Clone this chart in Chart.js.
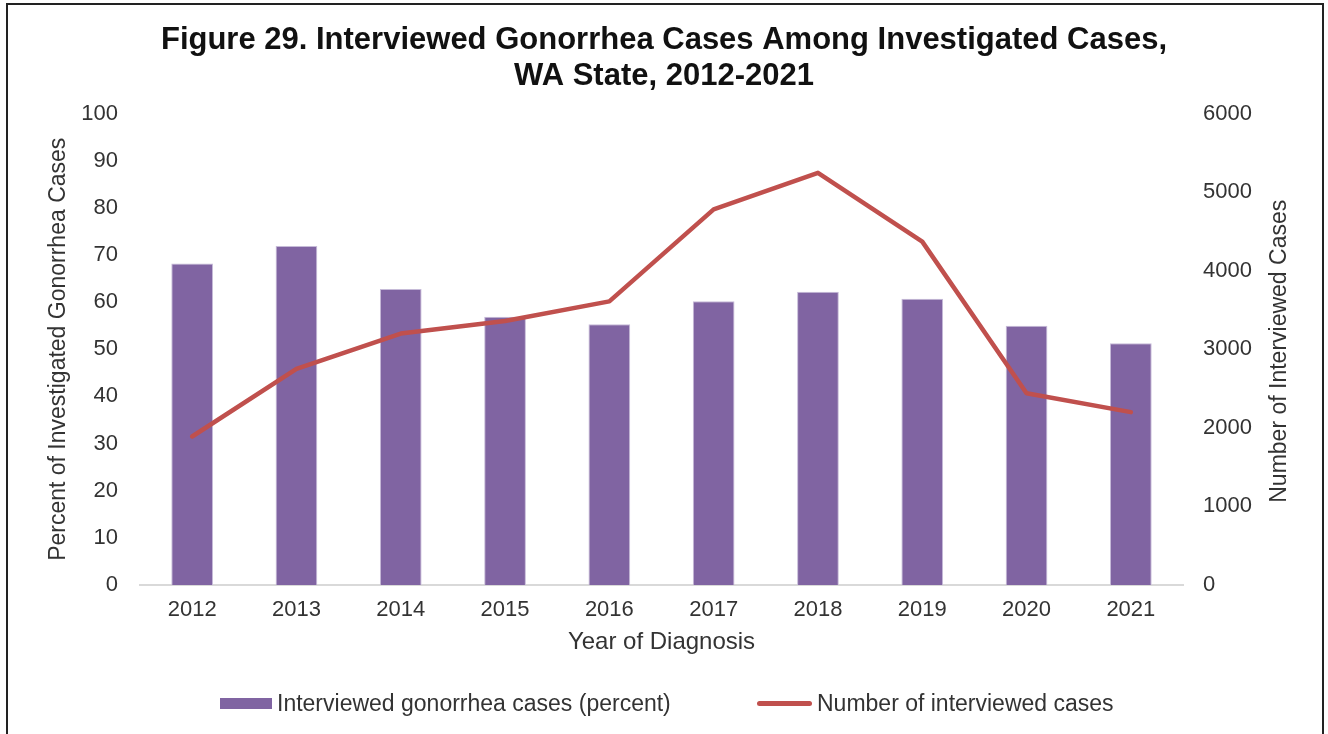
<!DOCTYPE html>
<html>
<head>
<meta charset="utf-8">
<title>Figure 29</title>
<script src="https://cdn.jsdelivr.net/npm/chart.js@4.4.1/dist/chart.umd.min.js"></script>
<style>
  html, body { margin: 0; padding: 0; background: #fff; overflow: hidden; }
  #wrap { position: relative; width: 1328px; height: 734px; font-family: "Liberation Sans", Arial, sans-serif; }
  #chart { position: absolute; left: 0; top: 0; }
  #frame { position: absolute; left: 6px; top: 3px; width: 1318px; height: 800px; border: 2px solid #222; box-sizing: border-box; pointer-events: none; }
  .legend-item { position: absolute; top: 688px; height: 30px; display: flex; align-items: center; font-size: 23px; color: #333; white-space: nowrap; }
  .legend-swatch { display: inline-block; margin-right: 5px; }
</style>
</head>
<body>
<div id="wrap">
  <canvas id="chart" width="1328" height="734"></canvas>
  <div id="legend"></div>
  <div id="frame"></div>
</div>
<script>
// data
const years = ["2012", "2013", "2014", "2015", "2016", "2017", "2018", "2019", "2020", "2021"];
const percentInterviewed = [68.2, 71.9, 62.8, 56.9, 55.3, 60.2, 62.2, 60.7, 55.0, 51.3];
const interviewedCases = [1890, 2750, 3200, 3360, 3610, 4780, 5245, 4370, 2440, 2200];

const titleLines = ["Figure 29. Interviewed Gonorrhea Cases Among Investigated Cases,", "WA State, 2012-2021"];
const barLabel = "Interviewed gonorrhea cases (percent)";
const lineLabel = "Number of interviewed cases";
const rightAxisTitle = "Number of Interviewed Cases";

const BAR_COLOR = "#8064A2";
const LINE_COLOR = "#C0504D";
const TEXT_COLOR = "#333333";
const FONT = '"Liberation Sans", Arial, sans-serif';

Chart.defaults.font.family = FONT;
Chart.defaults.color = TEXT_COLOR;

// right axis title reads bottom-to-top in the original, chart.js rotates it the other way
const rightTitlePlugin = {
  id: "rightTitle",
  afterDraw(chart) {
    const s = chart.scales.y1;
    const ctx = chart.ctx;
    ctx.save();
    ctx.translate(1280, (s.top + s.bottom) / 2 + 2);
    ctx.rotate(-Math.PI / 2);
    ctx.font = "23px " + FONT;
    ctx.fillStyle = TEXT_COLOR;
    ctx.textAlign = "center";
    ctx.textBaseline = "middle";
    ctx.fillText(rightAxisTitle, 0, 0);
    ctx.restore();
  }
};

const chart = new Chart(document.getElementById("chart"), {
  data: {
    labels: years,
    datasets: [
      {
        type: "bar",
        label: barLabel,
        data: percentInterviewed,
        yAxisID: "y",
        backgroundColor: BAR_COLOR,
        borderColor: "#c6bbd8",
        borderWidth: 1,
        barPercentage: 0.4,
        categoryPercentage: 1.0,
        order: 2
      },
      {
        type: "line",
        label: lineLabel,
        data: interviewedCases,
        yAxisID: "y1",
        borderColor: LINE_COLOR,
        backgroundColor: LINE_COLOR,
        borderWidth: 4.5,
        borderCapStyle: "round",
        borderJoinStyle: "round",
        pointRadius: 0,
        tension: 0,
        order: 1
      }
    ]
  },
  options: {
    responsive: false,
    animation: false,
    layout: { padding: { top: 0, left: 0, right: 0, bottom: 74 } },
    plugins: {
      legend: { display: false },
      tooltip: { enabled: false },
      title: {
        display: true,
        text: titleLines,
        color: "#111111",
        font: { size: 31, weight: "bold", lineHeight: 1.17 },
        padding: { top: 22, bottom: 19 }
      }
    },
    scales: {
      x: {
        offset: true,
        grid: { display: false, drawTicks: false },
        border: { display: true, color: "#d9d9d9", width: 2 },
        ticks: { padding: 12, font: { size: 22 }, color: TEXT_COLOR },
        title: {
          display: true,
          text: "Year of Diagnosis",
          font: { size: 24 },
          color: TEXT_COLOR,
          padding: { top: 0, bottom: 3 }
        },
        afterFit(scale) { scale.height = 75; }
      },
      y: {
        position: "left",
        min: 0,
        max: 100,
        grid: { display: false, drawTicks: false },
        border: { display: false },
        ticks: { stepSize: 10, padding: 22, font: { size: 22 }, color: TEXT_COLOR },
        title: {
          display: true,
          text: "Percent of Investigated Gonorrhea Cases",
          font: { size: 23 },
          color: TEXT_COLOR,
          padding: { top: 45, bottom: 0 }
        },
        afterFit(scale) { scale.width = 140; }
      },
      y1: {
        position: "right",
        min: 0,
        max: 6000,
        grid: { display: false, drawTicks: false },
        border: { display: false },
        ticks: {
          stepSize: 1000,
          padding: 20,
          font: { size: 22 },
          color: TEXT_COLOR,
          callback: (v) => String(v)
        },
        title: { display: false },
        afterFit(scale) { scale.width = 145; }
      }
    }
  },
  plugins: [rightTitlePlugin]
});

// legend built from the datasets, placed like the original
function buildLegend() {
  const legend = document.getElementById("legend");
  const lefts = [220, 757];
  chart.data.datasets.forEach((ds, i) => {
    const item = document.createElement("div");
    item.className = "legend-item";
    item.style.left = lefts[i] + "px";
    const sw = document.createElement("span");
    sw.className = "legend-swatch";
    if (ds.type === "bar") {
      sw.style.cssText += "width:52px;height:11px;background:" + ds.backgroundColor + ";";
    } else {
      sw.style.cssText += "width:55px;height:5px;border-radius:3px;background:" + ds.borderColor + ";";
    }
    const txt = document.createElement("span");
    txt.textContent = ds.label;
    item.appendChild(sw);
    item.appendChild(txt);
    legend.appendChild(item);
  });
}
buildLegend();
</script>
</body>
</html>
